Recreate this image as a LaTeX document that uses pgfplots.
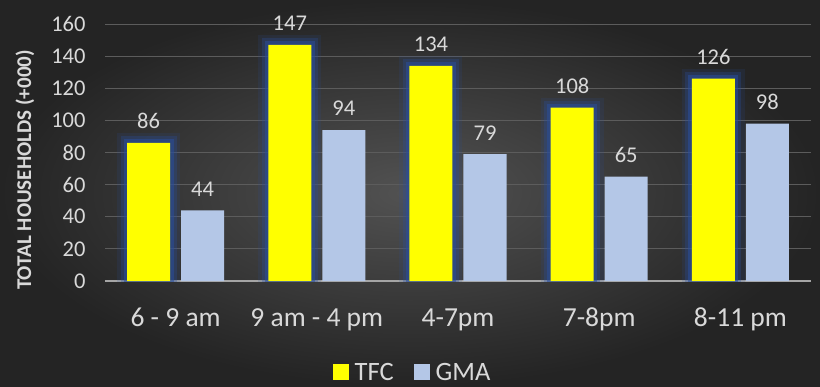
\documentclass[border=0pt]{standalone}
\usepackage{pgfplots}
\pgfplotsset{compat=1.18}
\usepackage{fontspec}
\setmainfont{Carlito}
\definecolor{tfc}{RGB}{255,255,0}
\definecolor{gma}{RGB}{180,199,231}
\definecolor{txt}{RGB}{217,217,217}
\definecolor{glow}{RGB}{42,78,155}
\definecolor{gridc}{RGB}{92,92,92}
\definecolor{axc}{RGB}{165,165,165}
\begin{document}
\begin{tikzpicture}[x=1pt,y=1pt]
\useasboundingbox (0,0) rectangle (820,386);
\shade[inner color={rgb,255:red,82;green,82;blue,82}, outer color={rgb,255:red,36;green,36;blue,36}] (0,0) rectangle (820,386);
\node[rotate=90, text=txt, font=\fontsize{21}{24}\selectfont\bfseries] at (25,216) {TOTAL HOUSEHOLDS (+000)};
\begin{axis}[
  at={(105pt,105pt)}, anchor=south west,
  scale only axis, width=706pt, height=257pt,
  xmin=-0.5, xmax=4.5, ymin=0, ymax=160,
  ytick={0,20,...,160},
  xtick={0,1,2,3,4},
  xticklabels={6 - 9 am, 9 am - 4 pm, 4-7pm, 7-8pm, 8-11 pm},
  /pgf/number format/assume math mode=true,
  axis x line*=bottom, axis y line*=left,
  x axis line style={draw=axc, line width=1.5pt, -},
  y axis line style={draw=none},
  major tick length=0pt,
  ymajorgrids, grid style={draw=gridc, line width=0.8pt},
  yticklabel style={text=txt, font=\fontsize{22.5}{26}\selectfont, anchor=east, xshift=-16pt},
  xticklabel style={text=txt, font=\fontsize{27.5}{31}\selectfont, anchor=base, yshift=-45pt},
  ybar,
  legend style={at={(0.4356,-0.355)}, anchor=center, draw=none, fill=none, text=txt,
    font=\fontsize{26.5}{30}\selectfont, /tikz/every even column/.append style={column sep=18pt}},
  legend columns=2,
  legend image code/.code={\fill[#1] (0pt,-8pt) rectangle (16pt,8pt); \path (20pt,0pt);},
]
% glow layers
\addplot[bar width=43pt, bar shift=-27pt, draw=glow, fill=glow, line width=20pt, opacity=0.15, forget plot]
  coordinates {(0,86) (1,147) (2,134) (3,108) (4,126)};
\addplot[bar width=43pt, bar shift=-27pt, draw=glow, fill=glow, line width=13pt, opacity=0.3, forget plot]
  coordinates {(0,86) (1,147) (2,134) (3,108) (4,126)};
\addplot[bar width=43pt, bar shift=-27pt, draw=glow, fill=glow, line width=7pt, opacity=0.55, forget plot]
  coordinates {(0,86) (1,147) (2,134) (3,108) (4,126)};
% main bars
\addplot[bar width=43pt, bar shift=-27pt, fill=tfc, draw=none,
  nodes near coords, nodes near coords style={text=txt, font=\fontsize{22.5}{26}\selectfont, anchor=south, yshift=10.5pt}]
  coordinates {(0,86) (1,147) (2,134) (3,108) (4,126)};
\addlegendentry{TFC}
\addplot[bar width=43pt, bar shift=27pt, fill=gma, draw=none,
  nodes near coords, nodes near coords style={text=txt, font=\fontsize{22.5}{26}\selectfont, anchor=south, yshift=10.5pt}]
  coordinates {(0,44) (1,94) (2,79) (3,65) (4,98)};
\addlegendentry{GMA}
\end{axis}
\end{tikzpicture}
\end{document}
